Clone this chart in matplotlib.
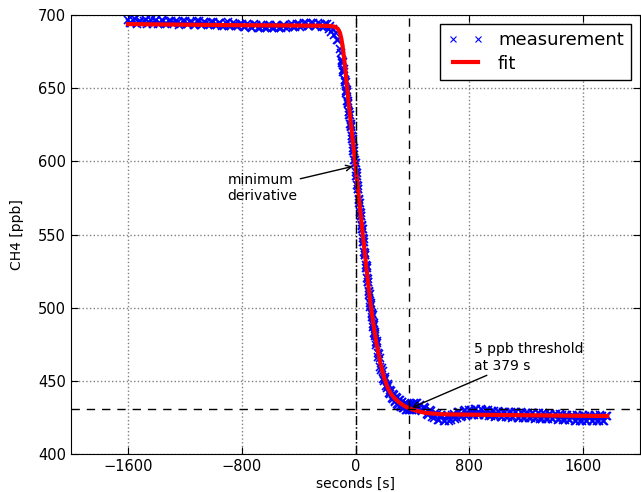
import numpy as np
import matplotlib.pyplot as plt

plt.rcParams.update({
    "font.family": "DejaVu Sans",
    "font.size": 10,
})

# measured CH4 [ppb]; each block is sampled on a regular time grid (start, step in s)
MEAS_A_START, MEAS_A_STEP = -1600, 25
MEAS_A = [696.5, 694.8, 697.0, 695.2, 694.6, 696.8, 695.0, 693.9, 696.3, 694.5,
          695.9, 693.8, 696.0, 694.2, 695.4, 693.6, 695.8, 693.9, 694.9, 693.2,
          695.6, 693.8, 694.6, 692.9, 695.2, 693.1, 694.5, 692.8, 694.9, 692.7,
          694.1, 692.3, 694.0, 691.8, 693.5, 691.4, 693.2, 690.9, 692.8, 691.0,
          692.9, 690.8, 692.6, 691.2, 693.1, 691.5, 693.6, 692.0, 694.1, 692.3,
          694.4, 692.5, 694.2, 692.4, 694.0, 692.1]

MEAS_A2_START, MEAS_A2_STEP = -1587.5, 25
MEAS_A2 = [694.3, 696.9, 694.1, 696.2, 695.8, 693.7, 696.5, 695.6, 693.8, 696.4,
           694.0, 695.7, 694.3, 696.1, 693.5, 695.9, 694.0, 695.3, 693.4, 695.6,
           693.3, 695.1, 693.2, 695.3, 692.9, 694.8, 692.7, 694.6, 692.6, 694.3,
           692.2, 694.1, 691.7, 693.8, 691.6, 693.6, 691.1, 693.1, 691.0, 693.2,
           690.9, 692.9, 691.1, 692.8, 691.3, 693.5, 691.7, 693.9, 692.0, 694.2,
           692.3, 694.6, 692.2, 694.3, 691.9, 693.8]

MEAS_B_START, MEAS_B_STEP = -200, 10
MEAS_B = [693.6, 690.3, 692.5, 688.7, 690.4, 686.6, 688.0, 683.0, 683.0, 676.5]

MEAS_C_START, MEAS_C_STEP = -100, 5
MEAS_C = [673.8, 667.5, 667.9, 661.2, 661.0, 654.3, 653.9, 646.6, 647.2, 639.0,
          639.8, 631.4, 631.7, 623.8, 623.9, 615.6, 615.2, 606.9, 607.1, 598.8,
          599.2, 590.3, 590.1, 581.4, 581.2, 571.8, 571.7, 562.9, 562.8, 553.7,
          553.9, 544.8, 544.9, 535.7, 535.9, 526.8, 526.9, 517.7, 517.8, 508.9,
          509.1, 500.8, 501.6, 493.9, 494.7, 486.8, 488.1, 480.9, 482.0, 474.8]

MEAS_C2_START, MEAS_C2_STEP = -97.5, 5
MEAS_C2 = [668.6, 669.4, 662.6, 663.1, 655.9, 655.9, 648.3, 648.7, 641.1, 641.1,
           633.6, 633.4, 625.6, 625.4, 617.6, 617.1, 609.1, 608.9, 601.1, 600.9,
           592.9, 592.1, 583.9, 583.1, 574.6, 573.7, 565.3, 564.7, 556.3, 555.7,
           547.3, 546.7, 538.3, 537.7, 529.3, 528.7, 520.3, 519.7, 511.3, 510.9,
           503.1, 503.1, 495.9, 496.1, 488.9, 489.4, 482.6, 483.4, 476.6, 477.4]

MEAS_D_START, MEAS_D_STEP = 150, 10
MEAS_D = [476.0, 466.6, 465.4, 457.2, 456.9, 450.1, 451.3, 445.2, 446.3, 440.7,
          442.9, 437.6, 440.2, 435.6, 438.3, 433.7, 436.6, 432.1, 435.3, 431.2,
          434.4, 430.1, 433.6, 429.9, 434.0, 430.4, 434.8, 430.9, 434.6, 430.7]

MEAS_D2_START, MEAS_D2_STEP = 155, 10
MEAS_D2 = [469.3, 468.1, 459.2, 459.0, 451.6, 452.5, 446.4, 447.6, 441.6, 443.5,
           438.4, 440.9, 436.1, 438.8, 434.2, 437.1, 432.5, 435.7, 431.3, 434.7,
           430.4, 433.9, 430.0, 433.8, 430.3, 434.4, 430.9, 434.7, 430.8]

MEAS_E_START, MEAS_E_STEP = 450, 20
MEAS_E = [433.8, 429.4, 431.2, 426.9, 429.1, 424.8, 427.3, 423.2, 426.1, 422.6,
          426.0, 423.1, 427.2, 424.6, 428.7, 425.9, 429.8, 426.6, 430.4, 427.0,
          430.6, 426.9, 430.3, 426.6, 429.8, 426.1, 429.4, 425.7, 429.0, 425.4,
          428.8, 425.3, 428.6, 425.1, 428.5, 424.9, 428.3, 424.8, 428.2, 424.6,
          427.9, 424.4, 427.7, 424.2, 427.5, 424.0, 427.3, 423.8, 427.1, 423.6,
          426.8, 423.3, 426.5, 423.0, 426.2, 422.8, 426.0, 422.7, 426.0, 422.6,
          425.9, 422.7, 426.0, 422.8, 426.1, 422.9, 426.0]

MEAS_E2_START, MEAS_E2_STEP = 460, 20
MEAS_E2 = [429.8, 432.0, 427.2, 429.9, 425.2, 427.8, 423.4, 426.6, 422.5, 426.2,
           422.7, 427.0, 424.0, 428.5, 425.4, 429.7, 426.3, 430.4, 426.8, 430.7,
           426.8, 430.5, 426.5, 430.0, 426.0, 429.6, 425.6, 429.2, 425.3, 429.0,
           425.1, 428.8, 424.9, 428.7, 424.8, 428.5, 424.6, 428.3, 424.4, 428.1,
           424.2, 427.9, 424.0, 427.7, 423.8, 427.5, 423.6, 427.3, 423.4, 427.1,
           423.2, 426.9, 423.0, 426.7, 422.8, 426.5, 422.7, 426.4, 422.6, 426.4,
           422.6, 426.4, 422.6, 426.4, 422.6, 426.3]

# fitted curve
FIT_T = [-1600, -1200, -800, -400, -250, -200, -175, -150, -140, -125, -110,
         -100, -90, -80, -70, -63, -50, -25, 0, 25, 50, 75, 100, 125, 150, 175,
         200, 225, 250, 275, 300, 325, 350, 379, 400, 450, 500, 600, 700, 800,
         1000, 1200, 1400, 1600, 1770]
FIT_V = [693.8, 693.4, 693.0, 692.8, 692.7, 692.6, 692.4, 692.1, 691.7, 690.6,
         688.0, 684.0, 678.0, 670.0, 661.0, 654.0, 641.5, 619.0, 597.0, 574.0,
         551.0, 528.5, 507.0, 489.0, 474.0, 462.0, 452.5, 445.5, 441.0, 438.0,
         435.8, 434.0, 432.5, 431.2, 430.4, 429.0, 428.0, 427.2, 427.0, 426.9,
         426.7, 426.5, 426.3, 426.1, 426.0]

T_MIN_DERIV = 0
T_THRESH = 379
Y_THRESH = 431
XTICKS = [-1600, -800, 0, 800, 1600]
YTICKS = [400, 450, 500, 550, 600, 650, 700]


def block(start, step, values):
    return start + step * np.arange(len(values)), np.array(values)


def main():
    blocks = [block(MEAS_A_START, MEAS_A_STEP, MEAS_A),
              block(MEAS_A2_START, MEAS_A2_STEP, MEAS_A2),
              block(MEAS_B_START, MEAS_B_STEP, MEAS_B),
              block(MEAS_C_START, MEAS_C_STEP, MEAS_C),
              block(MEAS_C2_START, MEAS_C2_STEP, MEAS_C2),
              block(MEAS_D_START, MEAS_D_STEP, MEAS_D),
              block(MEAS_D2_START, MEAS_D2_STEP, MEAS_D2),
              block(MEAS_E_START, MEAS_E_STEP, MEAS_E),
              block(MEAS_E2_START, MEAS_E2_STEP, MEAS_E2)]
    t = np.concatenate([b[0] for b in blocks])
    v = np.concatenate([b[1] for b in blocks])
    order = np.argsort(t)
    t, v = t[order], v[order]

    fig = plt.figure(figsize=(6.41, 4.92), dpi=100)
    ax = fig.add_axes([0.1108, 0.0772, 0.8877, 0.8923])

    ax.plot(t, v, 'x', color='blue', ms=5.8, mew=1.2, label='measurement', zorder=2)
    ax.plot(FIT_T, FIT_V, '-', color='red', lw=3.0, label='fit', zorder=3)

    ax.axvline(T_MIN_DERIV, color='black', ls='-.', lw=1, zorder=4)
    ax.axvline(T_THRESH, color='black', ls='--', lw=1, dashes=(6, 5), zorder=4)
    ax.axhline(Y_THRESH, color='black', ls='--', lw=1, dashes=(6, 5), zorder=4)

    ax.annotate('minimum\nderivative', xy=(T_MIN_DERIV, 597), xytext=(-900, 582),
                ha='left', va='center', fontsize=10,
                arrowprops=dict(arrowstyle='->', color='black', lw=1, shrinkA=0, shrinkB=2))
    ax.annotate('5 ppb threshold\nat 379 s', xy=(T_THRESH, Y_THRESH), xytext=(830, 466),
                ha='left', va='center', fontsize=10,
                arrowprops=dict(arrowstyle='->', color='black', lw=1, shrinkA=0, shrinkB=2))

    ax.set_xlim(-2000, 2000)
    ax.set_ylim(400, 700)
    ax.set_xticks(XTICKS)
    ax.set_xticklabels(['\u22121600', '\u2212800', '0', '800', '1600'])
    ax.set_yticks(YTICKS)
    ax.tick_params(direction='in', top=True, right=True, labelsize=10.5, length=5)
    ax.grid(True, ls=':', color='gray', lw=1)
    ax.set_xlabel('seconds [s]', fontsize=10, labelpad=2)
    ax.set_ylabel('CH4 [ppb]', fontsize=10, labelpad=10)

    leg = ax.legend(loc='upper right', numpoints=2, fontsize=13, fancybox=False,
                    borderaxespad=0.5, handlelength=2.0, borderpad=0.4,
                    labelspacing=0.3, framealpha=1)
    leg.get_frame().set_edgecolor('black')
    leg.get_frame().set_linewidth(1)
    leg.legend_handles[0].set_markersize(4.5)
    leg.legend_handles[0].set_markeredgewidth(0.8)

    plt.savefig('out.png', dpi=100)


if __name__ == "__main__":
    main()
